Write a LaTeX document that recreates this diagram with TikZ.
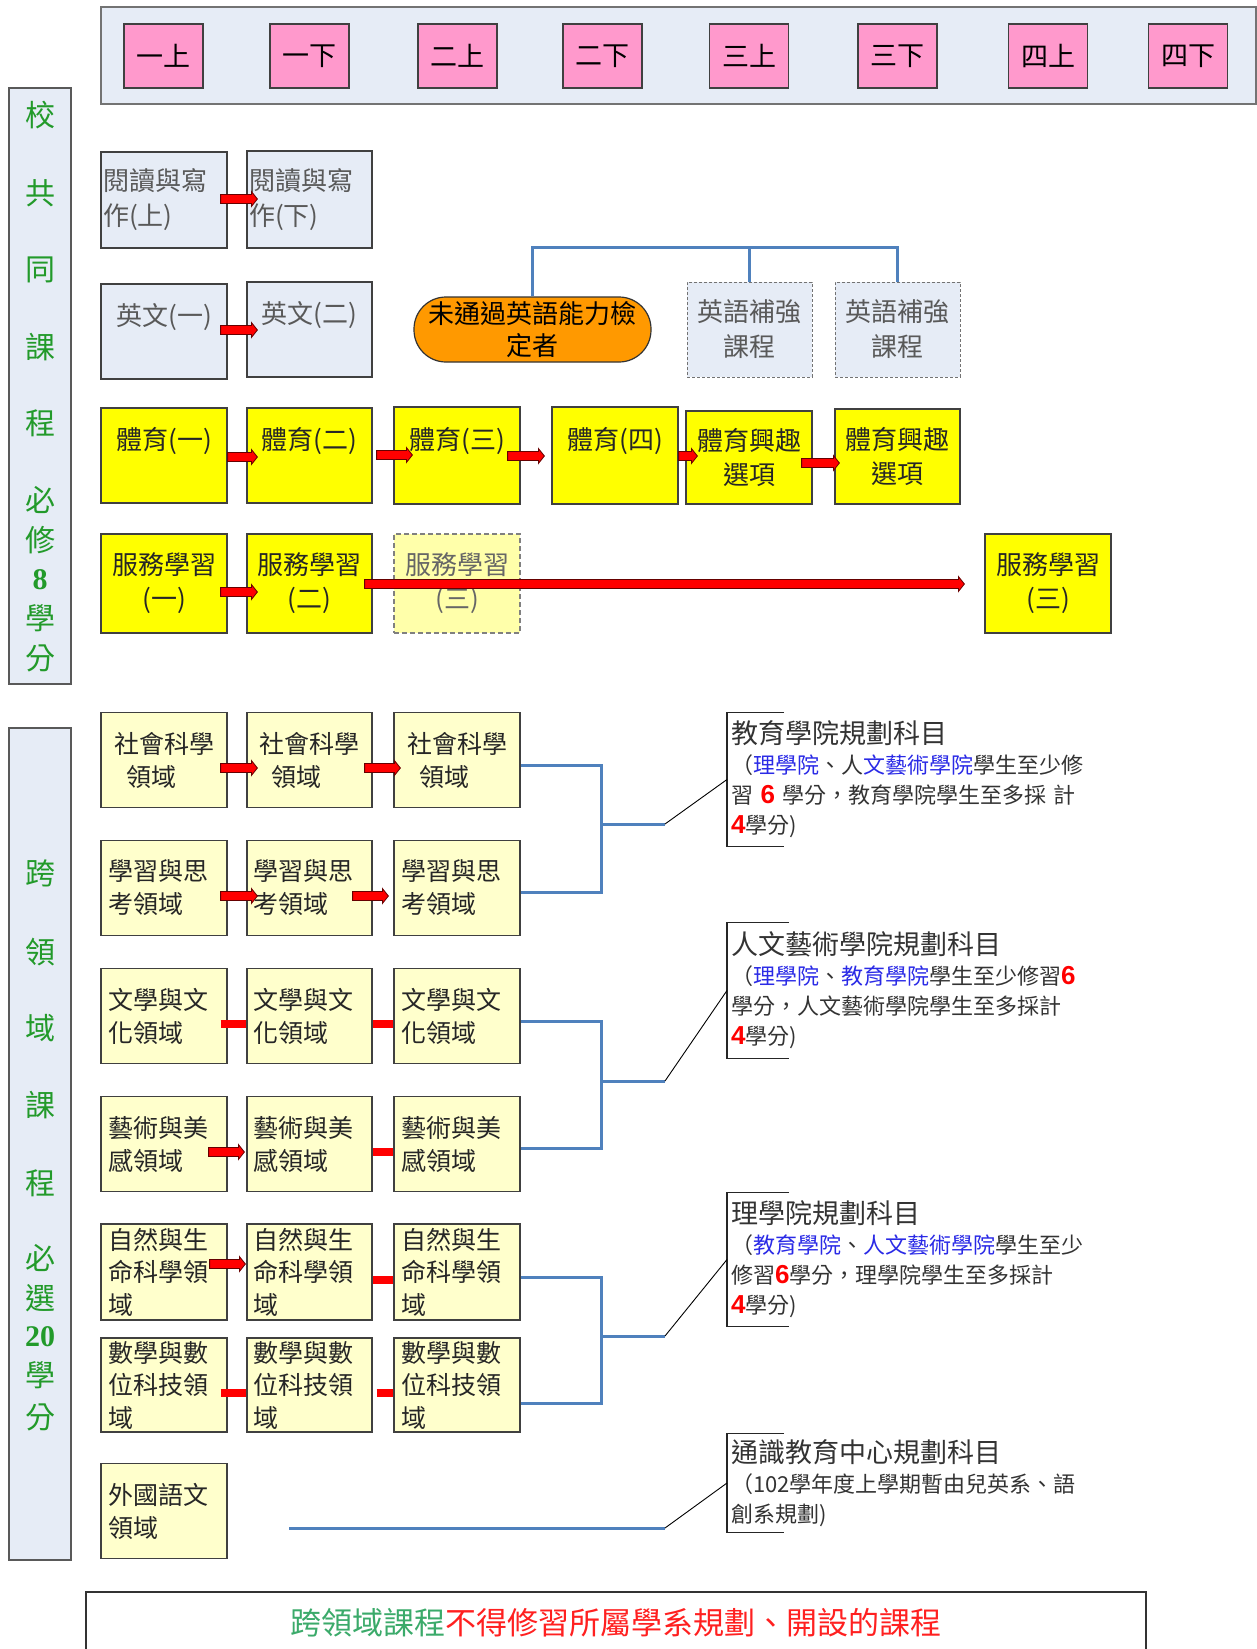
\documentclass[tikz,border=0pt]{standalone}
\usepackage{fontspec}
\setmainfont{Noto Sans CJK TC}
\newfontfamily\arialf{Liberation Sans}
\newfontfamily\timesf{Liberation Serif}
\usetikzlibrary{calc}
\definecolor{lb}{HTML}{E6ECF6}
\definecolor{pinkc}{HTML}{FF99CC}
\definecolor{ylw}{HTML}{FFFF00}
\definecolor{lylw}{HTML}{FFFFCC}
\definecolor{fylw}{HTML}{FFFFAA}
\definecolor{orng}{HTML}{FF9900}
\definecolor{bln}{HTML}{4F81BD}
\definecolor{sgreen}{HTML}{229A2A}
\definecolor{bgreen}{HTML}{3BAA6A}
\definecolor{bred}{HTML}{FF2020}
\definecolor{nblue}{HTML}{2A2AE6}
\definecolor{nred}{HTML}{FF0000}
\newcommand\myfs[2]{\fontsize{#1}{#2}\selectfont}
\newcommand\rnum[1]{{\arialf\bfseries\myfs{26}{30}\textcolor{nred}{#1}}}
\newcommand\bluet[1]{\textcolor{nblue}{#1}}
\newcommand\sbnum[1]{{\timesf\bfseries #1}}
\newcommand\blockarrow[5]{%
  \path ($(#1.east)+(#3,#5)$) coordinate (ba-s) ($(#2.west)+(#4,#5)$) coordinate (ba-e);
  \draw[redarrow] let \p1=(ba-s), \p2=(ba-e) in
    (\x1,\y1+4.5pt) -- (\x2-6pt,\y1+4.5pt) -- (\x2-6pt,\y1+7.5pt) -- (\x2,\y1) -- (\x2-6pt,\y1-7.5pt) -- (\x2-6pt,\y1-4.5pt) -- (\x1,\y1-4.5pt) -- cycle;}
\newcommand\redbar[5]{\draw[redbarst] ($(#1.east)+(#3,#5)$) -- ($(#2.west)+(#4,#5)$);}
\tikzset{
 bxbase/.style={draw=black!75, line width=1.2pt, inner sep=0pt, align=center},
 hdrbox/.style={draw=black!55, line width=1.5pt, fill=lb, inner sep=0pt},
 sidebox/.style={draw=black!65, line width=1.3pt, fill=lb, inner sep=0pt},
 sidetxt/.style={text=sgreen, font=\myfs{30}{30}, inner sep=0pt},
 sem/.style={bxbase, fill=pinkc, minimum width=79pt, minimum height=64pt, font=\myfs{27}{30}, text=black},
 gbox/.style={bxbase, fill=lb, text=black!65, font=\myfs{26}{35}},
 dbox/.style={gbox, draw=black!55, line width=0.9pt, dash pattern=on 3pt off 2pt},
 ybox/.style={bxbase, fill=ylw, text=black!85, font=\myfs{26}{34}},
 fadebox/.style={bxbase, fill=fylw, draw=black!50, dash pattern=on 5pt off 3pt, text=black!60, font=\myfs{26}{34}},
 cbox/.style={bxbase, fill=lylw, text=black!85, font=\myfs{25}{33}, minimum width=126pt, minimum height=95pt},
 ovalbox/.style={bxbase, fill=orng, draw=black!80, rounded corners=32pt, minimum width=237pt, minimum height=65pt, font=\myfs{26}{32}, text=black},
 redarrow/.style={fill=red, draw=black!60!red, line width=0.8pt},
 redbarst/.style={draw=red, line width=8.5pt},
 blueline/.style={draw=bln, line width=3pt},
 leadline/.style={draw=black, line width=0.9pt},
 brk/.style={draw=black!85, line width=1.3pt},
 notebox/.style={inner xsep=4pt, inner ysep=0pt, anchor=west, align=left, font=\myfs{22}{30}, text=black!80, text width=370pt},
}
\begin{document}
\begin{tikzpicture}[x=1pt,y=-1pt]
\useasboundingbox (0,0) rectangle (1257,1649);
% header
\node[hdrbox, minimum width=1155pt, minimum height=97pt] (hdr) at (678.5,55.5) {};
\foreach \lbl/\xx [count=\i] in {一上/163.5,一下/309.5,二上/457.5,二下/602.5,三上/749,三下/897.5,四上/1048,四下/1188}
  \node[sem] (sem\i) at (\xx,56) {\lbl};
% sidebars
\node[sidebox, minimum width=62pt, minimum height=596pt] (sb1) at (40,386) {};
\foreach \lbl/\yy [count=\i] in {校/115,共/193,同/270,課/347,程/423,必/500,修/540,\sbnum{8}/580,學/618,分/658}
  \node[sidetxt] (sa\i) at (40,\yy) {\lbl};
\node[sidebox, minimum width=62pt, minimum height=832pt] (sb2) at (40,1144) {};
\foreach \lbl/\yy [count=\i] in {跨/873,領/952,域/1028,課/1105,程/1183,必/1258,選/1298,\sbnum{20}/1337,學/1375,分/1417}
  \node[sidetxt] (sc\i) at (40,\yy) {\lbl};
% reading and writing
\node[gbox, minimum width=126pt, minimum height=96pt, text width=122pt, align=left] (rd1) at (164,200) {閱讀與寫\\作(上)};
\node[gbox, minimum width=125pt, minimum height=97pt, text width=121pt, align=left] (rd2) at (309.5,199.5) {閱讀與寫\\作(下)};
% English
\node[gbox, minimum width=126pt, minimum height=95pt] (en1) at (164,331.5) {英文(一)\\\mbox{}};
\node[gbox, minimum width=125pt, minimum height=95pt] (en2) at (309.5,329.5) {英文(二)\\\mbox{}};
\node[ovalbox] (fail) at (532.5,329.5) {未通過英語能力檢\\定者};
\node[dbox, minimum width=125pt, minimum height=95pt] (sup1) at (749.5,329.5) {英語補強\\課程};
\node[dbox, minimum width=125pt, minimum height=95pt] (sup2) at (897.5,329.5) {英語補強\\課程};
% PE
\node[ybox, minimum width=126pt, minimum height=95pt] (pe1) at (164,455.5) {體育(一)\\\mbox{}};
\node[ybox, minimum width=125pt, minimum height=95pt] (pe2) at (309.5,455.5) {體育(二)\\\mbox{}};
\node[ybox, minimum width=126pt, minimum height=97pt] (pe3) at (457,455.5) {體育(三)\\\mbox{}};
\node[ybox, minimum width=126pt, minimum height=97pt] (pe4) at (615,455.5) {體育(四)\\\mbox{}};
\node[ybox, minimum width=126pt, minimum height=93pt] (pe5) at (749,457.5) {體育興趣\\選項};
\node[ybox, minimum width=125pt, minimum height=95pt] (pe6) at (897.5,456.5) {體育興趣\\選項};
% service learning
\node[ybox, minimum width=126pt, minimum height=99pt] (sv1) at (164,583.5) {服務學習\\(一)};
\node[ybox, minimum width=125pt, minimum height=99pt] (sv2) at (309.5,583.5) {服務學習\\(二)};
\node[fadebox, minimum width=126pt, minimum height=99pt] (sv3) at (457,583.5) {服務學習\\(三)};
\node[ybox, minimum width=126pt, minimum height=99pt] (sv4) at (1048,583.5) {服務學習\\(三)};
% cross-domain
\foreach \xx/\ww [count=\i] in {164/126,309.5/125,457/126}{
  \node[cbox, minimum width=\ww pt, text width=100pt, align=left] (so\i) at (\xx,760) {社會科學\\\hspace*{12pt}領域};
  \node[cbox, minimum width=\ww pt, text width=112pt, align=left] (le\i) at (\xx,888) {學習與思\\考領域};
  \node[cbox, minimum width=\ww pt, text width=112pt, align=left] (cu\i) at (\xx,1016) {文學與文\\化領域};
  \node[cbox, minimum width=\ww pt, text width=112pt, align=left] (ar\i) at (\xx,1144) {藝術與美\\感領域};
  \node[cbox, minimum width=\ww pt, minimum height=96pt, text width=112pt, align=left, font=\myfs{25}{32.5}] (na\i) at (\xx,1272) {自然與生\\命科學領\\域};
  \node[cbox, minimum width=\ww pt, minimum height=94pt, text width=112pt, align=left, font=\myfs{25}{32.5}] (ma\i) at (\xx,1385) {數學與數\\位科技領\\域};
}
\node[cbox, text width=112pt, align=left] (fl1) at (164,1511) {外國語文\\領域};
% notes
\node[notebox, minimum height=133pt] (nt1) at (727,779.5) {{\myfs{27}{30}教育學院規劃科目}\\（\bluet{理學院}、人\bluet{文藝術學院}學生至少修\\習 \rnum{6} 學分，教育學院學生至多採 計\\\rnum{4}學分)};
\node[notebox, minimum height=135pt] (nt2) at (727,990.5) {{\myfs{27}{30}人文藝術學院規劃科目}\\（\bluet{理學院}、\bluet{教育學院}學生至少修習\rnum{6}\\學分，人文藝術學院學生至多採計\\\rnum{4}學分)};
\node[notebox, minimum height=133pt] (nt3) at (727,1259.5) {{\myfs{27}{30}理學院規劃科目}\\（\bluet{教育學院}、\bluet{人文藝術學院}學生至少\\修習\rnum{6}學分，理學院學生至多採計\\\rnum{4}學分)};
\node[notebox, minimum height=98pt] (nt4) at (727,1483) {{\myfs{27}{30}通識教育中心規劃科目}\\（102學年度上學期暫由兒英系、語\\創系規劃)};
\foreach \n/\tk in {nt1/57,nt2/62,nt3/62,nt4/57}
  \draw[brk] ($(\n.north west)+(\tk,0)$) -- (\n.north west) -- (\n.south west) -- ++(\tk,0);
% footer
\node[draw=black!80, line width=1.2pt, minimum width=1060pt, minimum height=62pt, inner sep=0pt, font=\myfs{31}{31}] (foot) at (616,1623) {\textcolor{bgreen}{跨領域課程}\textcolor{bred}{不得修習所屬學系規劃、開設的課程}};
% blue connectors
\coordinate (eng) at (532,247);
\draw[blueline] (fail.north) |- (sup2.north |- eng) -- (sup2.north);
\draw[blueline] (sup1.north) -- (sup1.north |- eng);
\coordinate (j1) at (601,824); \coordinate (k1) at (665,824);
\draw[blueline] ($(so3.east)+(0,5)$) -| (j1) |- ($(le3.east)+(0,4)$);
\draw[blueline] (j1) -- (k1);
\draw[leadline] (k1) -- (nt1.west);
\coordinate (j2) at (601,1081); \coordinate (k2) at (665,1081);
\draw[blueline] ($(cu3.east)+(0,5)$) -| (j2) |- ($(ar3.east)+(0,4)$);
\draw[blueline] (j2) -- (k2);
\draw[leadline] (k2) -- (nt2.west);
\coordinate (j3) at (601,1336); \coordinate (k3) at (665,1336);
\draw[blueline] ($(na3.east)+(0,5)$) -| (j3) |- ($(ma3.east)+(0,18)$);
\draw[blueline] (j3) -- (k3);
\draw[leadline] (k3) -- (nt3.west);
\coordinate (fstart) at (289,1528); \coordinate (k4) at (665,1528);
\draw[blueline] (fstart) -- (k4);
\draw[leadline] (k4) -- (nt4.west);
% red arrows and bars
\blockarrow{rd1}{rd2}{-7}{11}{-1}
\blockarrow{en1}{en2}{-7}{11}{-1.5}
\blockarrow{pe1}{pe2}{0}{11}{1.5}
\blockarrow{pe2}{pe3}{4}{19}{-0.5}
\blockarrow{pe3}{pe4}{-13}{-7}{0.5}
\blockarrow{pe4}{pe5}{0}{12}{0.5}
\blockarrow{pe5}{pe6}{-11}{5}{5.5}
\blockarrow{sv1}{sv2}{-7}{11}{8.5}
\blockarrow{sv2}{sv4}{-8}{-20}{0.5}
\blockarrow{so1}{so2}{-7}{11}{8}
\blockarrow{so2}{so3}{-8}{7}{8}
\blockarrow{le1}{le2}{-7}{11}{8}
\blockarrow{le2}{le3}{-20}{-5}{8}
\redbar{cu1}{cu2}{-7}{0}{8}
\redbar{cu2}{cu3}{0}{0}{8}
\blockarrow{ar1}{ar2}{-19}{-2}{8}
\redbar{ar2}{ar3}{0}{0}{8}
\blockarrow{na1}{na2}{-18}{-1}{-8}
\redbar{na2}{na3}{0}{0}{8}
\redbar{ma1}{ma2}{-7}{0}{8}
\redbar{ma2}{ma3}{4}{0}{8}
\end{tikzpicture}
\end{document}
